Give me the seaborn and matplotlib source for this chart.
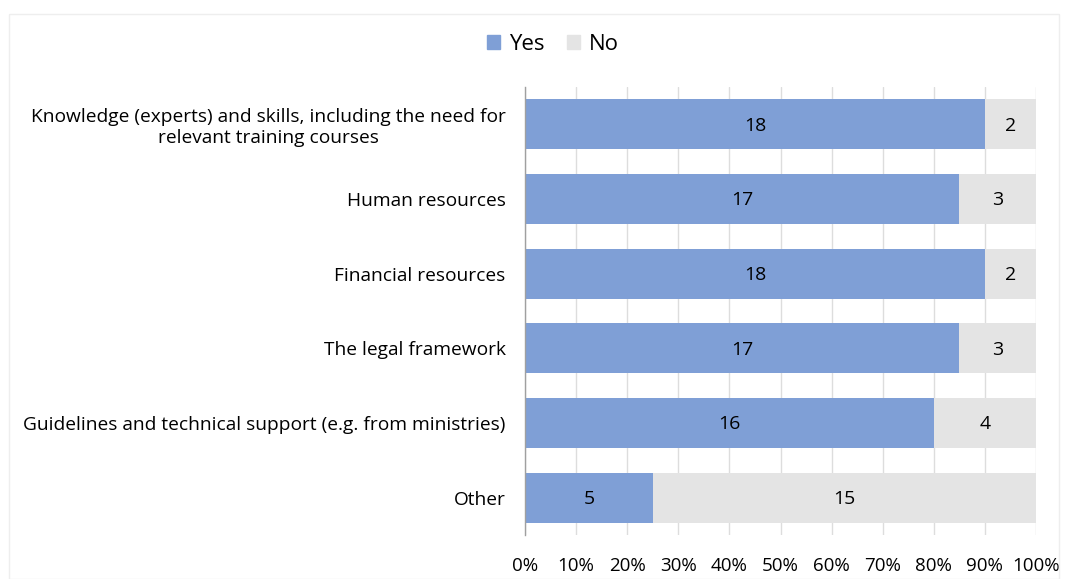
import matplotlib
matplotlib.use("Agg")
import matplotlib.pyplot as plt
import seaborn as sns
import pandas as pd
import numpy as np
from matplotlib.patches import Rectangle

categories = [
    "Knowledge (experts) and skills, including the need for\nrelevant training courses",
    "Human resources",
    "Financial resources",
    "The legal framework",
    "Guidelines and technical support (e.g. from ministries)",
    "Other",
]
yes_counts = [18, 17, 18, 17, 16, 5]
no_counts = [2, 3, 2, 3, 4, 15]
x_ticks = [0, 10, 20, 30, 40, 50, 60, 70, 80, 90, 100]

YES_C = "#7F9FD6"
NO_C = "#E4E4E4"

sns.set_theme(style="white")
plt.rcParams['font.family'] = ['Open Sans', 'DejaVu Sans']
plt.rcParams['text.color'] = '#000000'
plt.rcParams['xtick.color'] = '#000000'
plt.rcParams['ytick.color'] = '#000000'

df = pd.DataFrame({"cat": categories, "yes": yes_counts, "no": no_counts})
df["total"] = df["yes"] + df["no"]
df["yes_pct"] = df["yes"] / df["total"] * 100
df["all_pct"] = 100.0

fig = plt.figure(figsize=(10.68, 5.79), dpi=100)
ax = fig.add_axes([525/1068, 1 - 535/579, (1036-525)/1068, (535-87)/579])

sns.barplot(data=df, y="cat", x="all_pct", color=NO_C, saturation=1, width=0.67, ax=ax,
            zorder=2, linewidth=0)
sns.barplot(data=df, y="cat", x="yes_pct", color=YES_C, saturation=1, width=0.67, ax=ax,
            zorder=3, linewidth=0)

for i, r in df.iterrows():
    ax.text(r["yes_pct"] / 2, i + 0.02, str(r["yes"]), ha="center", va="center", fontsize=14, color="#000000", zorder=4)
    ax.text(r["yes_pct"] + (100 - r["yes_pct"]) / 2, i + 0.02, str(r["no"]), ha="center", va="center", fontsize=14, color="#000000", zorder=4)

ax.set_xlim(0, 100)
ax.set_xticks(x_ticks)
ax.set_xticklabels([f"{t}%" for t in x_ticks], fontsize=13.5)
ax.tick_params(axis="y", labelsize=13.8, length=0, pad=14)
ax.tick_params(axis="x", length=0, pad=16)
ax.set_xlabel("")
ax.set_ylabel("")
ax.xaxis.grid(True, color="#DDDDDD", linewidth=1, zorder=0)
ax.set_axisbelow(True)
for s in ["top", "right", "bottom"]:
    ax.spines[s].set_visible(False)
ax.spines["left"].set_color("#A0A0A0")
ax.spines["left"].set_linewidth(1)
ax.spines["left"].set_zorder(5)
for lbl in ax.get_yticklabels():
    lbl.set_ha("right")
    lbl.set_multialignment("center")

handles = [Rectangle((0, 0), 1, 1, color=YES_C), Rectangle((0, 0), 1, 1, color=NO_C)]
fig.legend(handles, ["Yes", "No"], loc="center", bbox_to_anchor=(553/1068, 1 - 44/579),
           ncol=2, frameon=False, fontsize=16, handlelength=0.6, handleheight=0.6,
           handletextpad=0.4, columnspacing=1.0)

fig.patches.append(Rectangle((9/1068, 0), (1068-18)/1068, 1 - 14/579, transform=fig.transFigure,
                             fill=False, edgecolor="#EEEEEE", linewidth=1))

fig.savefig("out.png", dpi=100)
